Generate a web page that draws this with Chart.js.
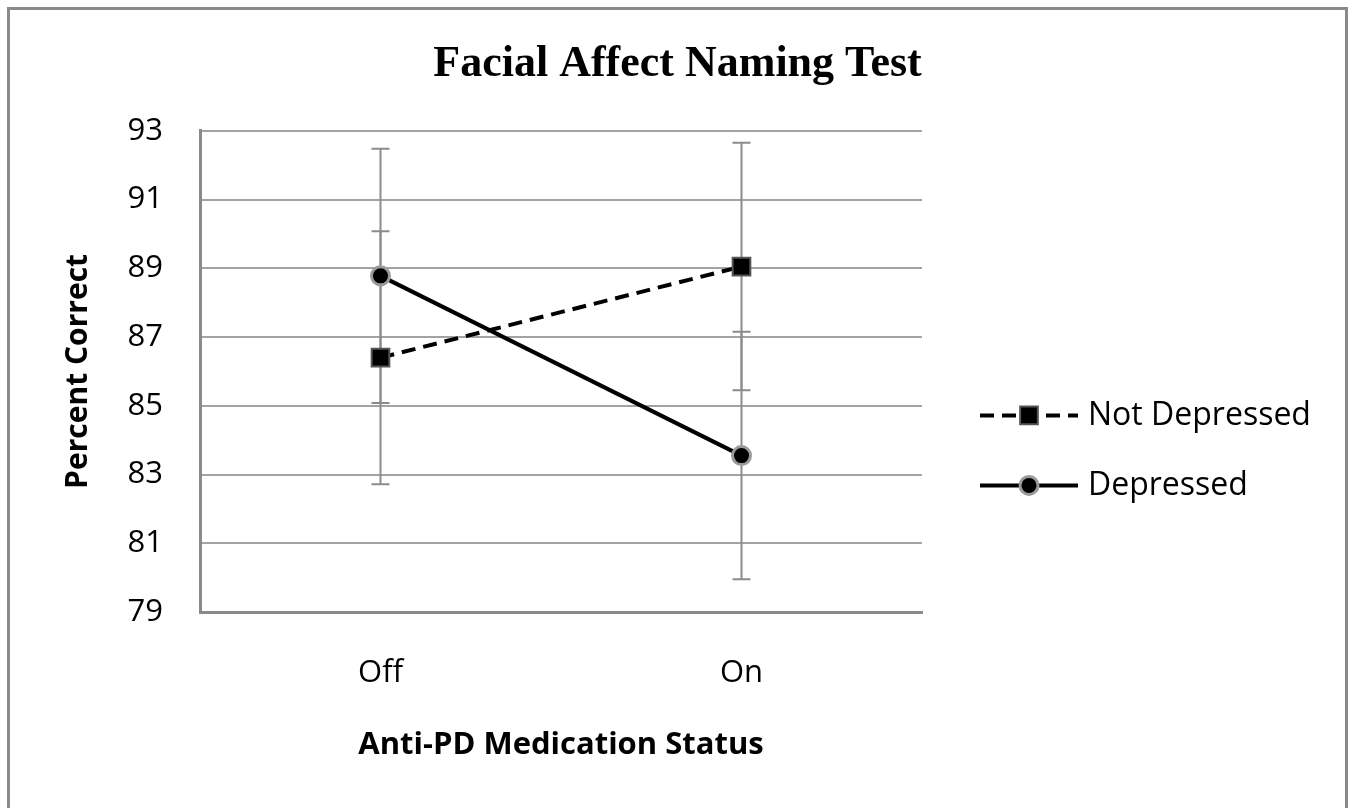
<!DOCTYPE html>
<html>
<head>
<meta charset="utf-8">
<script src="https://cdn.jsdelivr.net/npm/chart.js@4.4.1/dist/chart.umd.min.js"></script>
<style>
  html, body { margin: 0; padding: 0; background: #fff; }
</style>
</head>
<body>
<canvas id="chart" width="1355" height="808"></canvas>
<script>
// ---- data ----
const categories = ["Off", "On"];
const seriesNames = ["Not Depressed", "Depressed"];
const notDepressed = [86.4, 89.05];
const depressed = [88.78, 83.55];
const notDepressedErr = [3.68, 3.6];
const depressedErr = [3.7, 3.6];
const yMin = 79, yMax = 93, yStep = 2;

const sansFont = "'Open Sans', 'Noto Sans', sans-serif";

// white page + grey frame
const framePlugin = {
  id: "frame",
  beforeDraw(chart) {
    const { ctx, width, height } = chart;
    ctx.save();
    ctx.fillStyle = "#fff";
    ctx.fillRect(0, 0, width, height);
    ctx.strokeStyle = "#8a8a8a";
    ctx.lineWidth = 3;
    ctx.strokeRect(8.5, 8.5, width - 17, height + 20);
    ctx.restore();
  }
};

// error bars (+/- err) drawn behind the lines
const errorBarPlugin = {
  id: "errorBars",
  beforeDatasetsDraw(chart) {
    const { ctx, scales: { x, y } } = chart;
    ctx.save();
    ctx.strokeStyle = "#8c8c8c";
    ctx.lineWidth = 2;
    chart.data.datasets.forEach(ds => {
      ds.data.forEach((v, i) => {
        const px = x.getPixelForValue(i);
        const top = y.getPixelForValue(v + ds.errorBars[i]);
        const bot = y.getPixelForValue(v - ds.errorBars[i]);
        ctx.beginPath();
        ctx.moveTo(px, top); ctx.lineTo(px, bot);
        ctx.moveTo(px - 9, top); ctx.lineTo(px + 9, top);
        ctx.moveTo(px - 9, bot); ctx.lineTo(px + 9, bot);
        ctx.stroke();
      });
    });
    ctx.restore();
  }
};

// legend on the right: line sample + marker + label
const sideLegend = {
  id: "sideLegend",
  afterDraw(chart) {
    const { ctx, chartArea } = chart;
    const x0 = chartArea.right + 58;
    const x1 = chartArea.right + 156;
    const mid = (chartArea.top + chartArea.bottom) / 2;
    ctx.save();
    chart.data.datasets.forEach((ds, i) => {
      const yy = mid + 44 + i * 70;
      ctx.strokeStyle = ds.borderColor;
      ctx.lineWidth = ds.borderWidth;
      ctx.setLineDash(ds.borderDash || []);
      ctx.beginPath();
      ctx.moveTo(x0, yy); ctx.lineTo(x1, yy);
      ctx.stroke();
      ctx.setLineDash([]);
      ctx.fillStyle = ds.pointBackgroundColor;
      ctx.strokeStyle = ds.pointBorderColor;
      ctx.lineWidth = ds.pointBorderWidth;
      Chart.helpers.drawPoint(ctx, {
        pointStyle: ds.pointStyle,
        radius: ds.pointRadius,
        rotation: 0,
        borderWidth: ds.pointBorderWidth
      }, (x0 + x1) / 2, yy);
      ctx.fillStyle = "#000";
      ctx.font = "32px " + sansFont;
      ctx.textBaseline = "middle";
      ctx.textAlign = "left";
      ctx.fillText(ds.label, x1 + 10, yy);
    });
    ctx.restore();
  }
};

new Chart(document.getElementById("chart"), {
  type: "line",
  data: {
    labels: categories,
    datasets: [
      {
        label: seriesNames[0],
        data: notDepressed,
        errorBars: notDepressedErr,
        borderColor: "#000",
        borderWidth: 4,
        borderDash: [14, 8],
        pointStyle: "rect",
        pointRadius: 12.5,
        pointBackgroundColor: "#000",
        pointBorderColor: "#555",
        pointBorderWidth: 2
      },
      {
        label: seriesNames[1],
        data: depressed,
        errorBars: depressedErr,
        borderColor: "#000",
        borderWidth: 4,
        pointStyle: "circle",
        pointRadius: 9,
        pointBackgroundColor: "#000",
        pointBorderColor: "#9a9a9a",
        pointBorderWidth: 3
      }
    ]
  },
  options: {
    responsive: false,
    animation: false,
    layout: { padding: { top: 0, left: 0, right: 0, bottom: 20 } },
    plugins: {
      legend: { display: false },
      tooltip: { enabled: false },
      title: {
        display: true,
        text: "Facial Affect Naming Test",
        color: "#000",
        font: { family: "'Liberation Serif', serif", size: 44, weight: "bold" },
        padding: { top: 38, bottom: 40 }
      }
    },
    scales: {
      x: {
        offset: true,
        grid: { display: true, color: "rgba(0,0,0,0)", drawTicks: false },
        border: { display: true, color: "#8a8a8a", width: 3 },
        ticks: { color: "#000", font: { family: sansFont, size: 31 }, padding: 43 },
        title: {
          display: true,
          text: "Anti-PD Medication Status",
          color: "#000",
          font: { family: sansFont, size: 31, weight: "bold" },
          padding: { top: 0, bottom: 24 }
        },
        afterFit(scale) { scale.height = 176; }
      },
      y: {
        min: yMin,
        max: yMax,
        grid: { color: "#a3a3a3", lineWidth: 2, drawTicks: false },
        border: { display: true, color: "#8a8a8a", width: 3 },
        ticks: { stepSize: yStep, color: "#000", font: { family: sansFont, size: 31 }, padding: 37 },
        title: {
          display: true,
          text: "Percent Correct",
          color: "#000",
          font: { family: sansFont, size: 30, weight: "bold" },
          padding: { top: 60, bottom: 0 }
        },
        afterFit(scale) { scale.width = 200; }
      },
      // empty right-hand axis that only reserves room for the legend
      legendSpace: {
        type: "linear",
        position: "right",
        min: yMin,
        max: yMax,
        grid: { display: false, drawTicks: false },
        border: { display: false },
        ticks: { display: false },
        afterFit(scale) { scale.width = 433; }
      }
    }
  },
  plugins: [framePlugin, errorBarPlugin, sideLegend]
});
</script>
</body>
</html>
